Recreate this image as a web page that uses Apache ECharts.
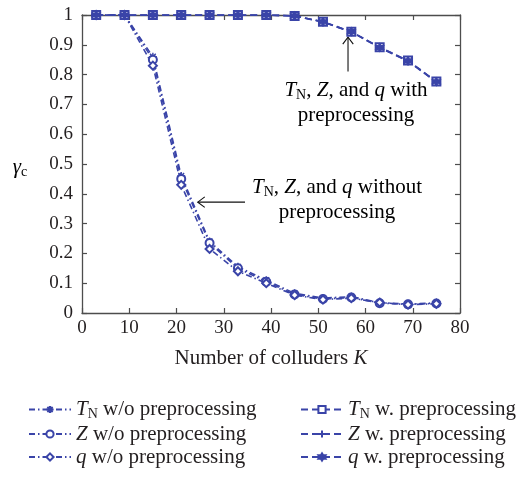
<!DOCTYPE html>
<html>
<head>
<meta charset="utf-8">
<script src="https://cdn.jsdelivr.net/npm/echarts@6/dist/echarts.min.js"></script>
<style>
  html, body { margin: 0; padding: 0; background: #fff; }
  #chart { width: 526px; height: 477px; }
</style>
</head>
<body>
<div id="chart"></div>
<script>
// Number of colluders K (x positions of the measurements)
const colluders = [3, 9, 15, 21, 27, 33, 39, 45, 51, 57, 63, 69, 75];

// gamma_c without preprocessing
const tnWithout = [1, 1, 0.86, 0.46, 0.24, 0.155, 0.11, 0.066, 0.05, 0.055, 0.035, 0.03, 0.034];
const zWithout  = [1, 1, 0.85, 0.45, 0.235, 0.15, 0.105, 0.062, 0.047, 0.052, 0.033, 0.029, 0.032];
const qWithout  = [1, 1, 0.83, 0.43, 0.215, 0.14, 0.1, 0.06, 0.045, 0.05, 0.035, 0.028, 0.031];

// gamma_c with preprocessing
const tnWith = [1, 1, 1, 1, 1, 1, 1, 0.997, 0.977, 0.944, 0.892, 0.847, 0.777];
const zWith  = [1, 1, 1, 1, 1, 1, 1, 0.997, 0.976, 0.943, 0.890, 0.845, 0.775];
const qWith  = [1, 1, 1, 1, 1, 1, 1, 0.997, 0.977, 0.944, 0.891, 0.846, 0.776];

const xTicks = { min: 0, max: 80, interval: 10 };
const yTicks = { min: 0, max: 1, interval: 0.1 };

const BLUE = '#3a44a8';
const FONT = '"Liberation Serif", "DejaVu Serif", serif';
const TEXT = '#231f20';
const FS = 21;

const ASTERISK = 'path://M0,-5L0,5M-5,0L5,0M-3.6,-3.6L3.6,3.6M-3.6,3.6L3.6,-3.6';
const PLUS = 'path://M0,-5L0,5M-5,0L5,0';
const HEXAGRAM = 'path://M0,-6L1.73,-3L5.2,-3L3.46,0L5.2,3L1.73,3L0,6L-1.73,3L-5.2,3L-3.46,0L-5.2,-3L-1.73,-3Z';

const DASH_DOT = [6, 3, 1.5, 3];
const DASHED = [7, 4];

const pairs = ys => colluders.map((x, i) => [x, ys[i]]);

// italic symbol, subscript and plain runs for the rich-text captions
const richText = {
  i: { fontFamily: FONT, fontStyle: 'italic', fontSize: FS, color: TEXT, lineHeight: 25 },
  s: { fontFamily: FONT, fontSize: 14, color: TEXT, padding: [10, 0, 0, 0] },
  n: { fontFamily: FONT, fontSize: FS, color: TEXT, lineHeight: 25 }
};

function makeSeries(name, ys, symbol, dash, stroked) {
  return {
    name: name,
    type: 'line',
    data: pairs(ys),
    symbol: symbol,
    symbolSize: 8,
    showSymbol: true,
    lineStyle: { color: BLUE, width: 1.6, type: dash },
    itemStyle: stroked
      ? { color: BLUE, borderColor: BLUE, borderWidth: 1.4 }
      : { color: BLUE, borderColor: BLUE, borderWidth: 1.2 },
    animation: false,
    z: 3
  };
}

const legendLabels = {
  'TN w/o preprocessing': '{i|T}{s|N}{n| w/o preprocessing}',
  'Z w/o preprocessing': '{i|Z}{n| w/o preprocessing}',
  'q w/o preprocessing': '{i|q}{n| w/o preprocessing}',
  'TN w. preprocessing': '{i|T}{s|N}{n| w. preprocessing}',
  'Z w. preprocessing': '{i|Z}{n| w. preprocessing}',
  'q w. preprocessing': '{i|q}{n| w. preprocessing}'
};

const legendBase = {
  orient: 'vertical',
  top: 394,
  itemWidth: 42,
  itemHeight: 9,
  itemGap: 2,
  formatter: name => legendLabels[name],
  textStyle: {
    fontFamily: FONT, fontSize: FS, color: TEXT,
    rich: {
      i: Object.assign({}, richText.i, { lineHeight: 23 }),
      s: richText.s,
      n: Object.assign({}, richText.n, { lineHeight: 23 })
    }
  }
};

const tickLabel = v => String(Number(v.toFixed(1)));

const chart = echarts.init(document.getElementById('chart'), null, { renderer: 'canvas' });

const axisLine = { show: true, onZero: false, lineStyle: { color: '#4d4d4d', width: 1.3 } };
const axisTick = { show: true, inside: true, length: 5, lineStyle: { color: '#4d4d4d', width: 1.2 } };

chart.setOption({
  animation: false,
  backgroundColor: '#fff',
  grid: { left: 82, right: 66, top: 15, bottom: 164, containLabel: false },
  xAxis: [
    {
      type: 'value', position: 'bottom', ...xTicks,
      axisLine, axisTick, splitLine: { show: false },
      axisLabel: { fontFamily: FONT, fontSize: 19, color: TEXT, margin: 6 },
      name: 'Number of colluders {i|K}',
      nameLocation: 'middle',
      nameGap: 33,
      nameTextStyle: { fontFamily: FONT, fontSize: FS, color: TEXT, rich: richText }
    },
    {
      type: 'value', position: 'top', ...xTicks,
      axisLine, axisTick, splitLine: { show: false }, axisLabel: { show: false }
    }
  ],
  yAxis: [
    {
      type: 'value', position: 'left', ...yTicks,
      axisLine, axisTick, splitLine: { show: false },
      axisLabel: { fontFamily: FONT, fontSize: 19, color: TEXT, margin: 9, formatter: tickLabel }
    },
    {
      type: 'value', position: 'right', ...yTicks,
      axisLine, axisTick, splitLine: { show: false }, axisLabel: { show: false }
    }
  ],
  legend: [
    Object.assign({}, legendBase, {
      left: 23,
      data: ['TN w/o preprocessing', 'Z w/o preprocessing', 'q w/o preprocessing']
    }),
    Object.assign({}, legendBase, {
      left: 295,
      data: ['TN w. preprocessing', 'Z w. preprocessing', 'q w. preprocessing']
    })
  ],
  series: [
    makeSeries('TN w/o preprocessing', tnWithout, ASTERISK, DASH_DOT, true),
    makeSeries('Z w/o preprocessing', zWithout, 'emptyCircle', DASH_DOT, false),
    makeSeries('q w/o preprocessing', qWithout, 'emptyDiamond', DASH_DOT, false),
    makeSeries('TN w. preprocessing', tnWith, 'emptyRect', DASHED, false),
    makeSeries('Z w. preprocessing', zWith, PLUS, DASHED, true),
    makeSeries('q w. preprocessing', qWith, HEXAGRAM, DASHED, false)
  ]
});

// Annotation arrows anchored in data space, plus their captions
const px = p => chart.convertToPixel({ xAxisIndex: 0, yAxisIndex: 0 }, p);
const upFrom = px([56.3, 0.81]), upTo = px([56.3, 0.926]);
const leftFrom = px([34.5, 0.372]), leftTo = px([24.5, 0.372]);
const head = 7;

const arrowStyle = { stroke: '#111', lineWidth: 1.1, fill: null };

chart.setOption({
  graphic: [
    { type: 'line', shape: { x1: upFrom[0], y1: upFrom[1], x2: upTo[0], y2: upTo[1] }, style: arrowStyle },
    { type: 'polyline', shape: { points: [[upTo[0] - head * 0.75, upTo[1] + head], upTo, [upTo[0] + head * 0.75, upTo[1] + head]] }, style: arrowStyle },
    { type: 'line', shape: { x1: leftFrom[0], y1: leftFrom[1], x2: leftTo[0], y2: leftTo[1] }, style: arrowStyle },
    { type: 'polyline', shape: { points: [[leftTo[0] + head, leftTo[1] - head * 0.75], leftTo, [leftTo[0] + head, leftTo[1] + head * 0.75]] }, style: arrowStyle },
    {
      type: 'text', x: 356, y: 103,
      style: {
        text: '{i|T}{s|N}{n|, }{i|Z}{n|, and }{i|q}{n| with}\n{n|preprocessing}',
        rich: richText, align: 'center', verticalAlign: 'middle'
      }
    },
    {
      type: 'text', x: 337, y: 200,
      style: {
        text: '{i|T}{s|N}{n|, }{i|Z}{n|, and }{i|q}{n| without}\n{n|preprocessing}',
        rich: richText, align: 'center', verticalAlign: 'middle'
      }
    },
    {
      type: 'text', x: 20, y: 167,
      style: {
        text: '{i|γ}{s|c}',
        rich: richText, align: 'center', verticalAlign: 'middle'
      }
    }
  ]
});
</script>
</body>
</html>
